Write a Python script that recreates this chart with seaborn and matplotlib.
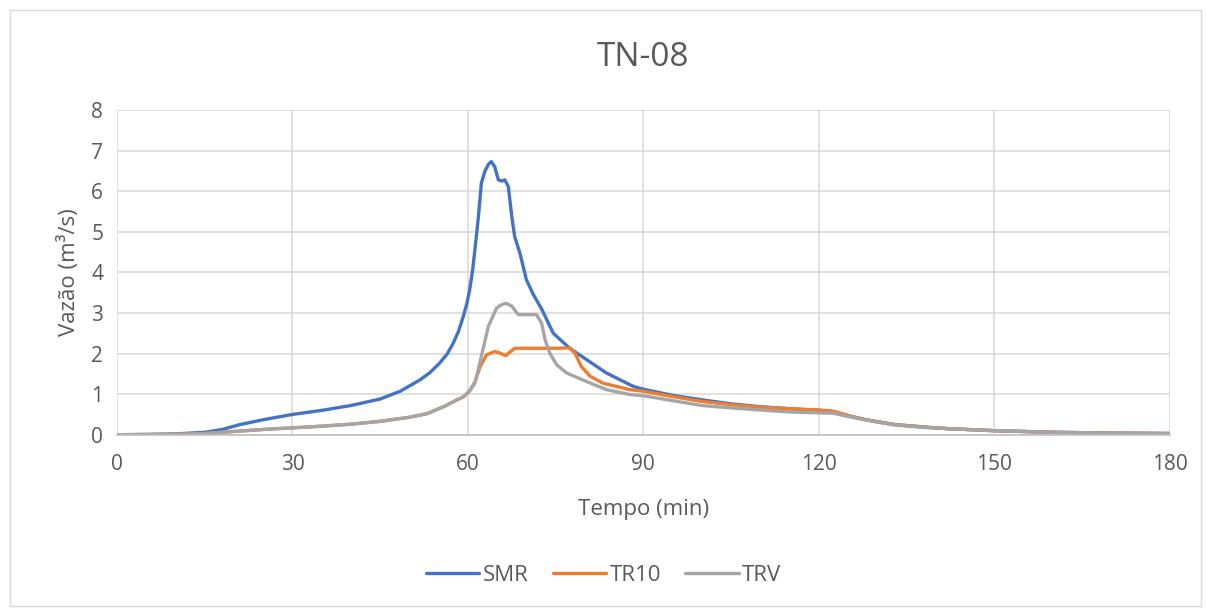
import pandas as pd
import seaborn as sns
import matplotlib.pyplot as plt
from matplotlib.patches import Rectangle

# hydrograph values (time in min, flow in m3/s)
smr_t = [0, 5, 10, 15, 18, 21, 25, 30, 35, 40, 45, 48.4, 51.8, 53.5, 55.2, 56.5, 57.5,
         58.4, 59.2, 59.8, 60.3, 60.8, 61.2, 61.8, 62.3, 62.9, 63.5, 64.0, 64.6, 65.2,
         65.8, 66.3, 66.9, 67.5, 68.0, 68.9, 70.0, 71.2, 72.6, 74.6, 77.4, 80.3, 83.7,
         88.3, 90, 95, 100, 105, 110, 115, 120, 122.5, 125, 128, 133, 138, 142, 150,
         160, 170, 180]
smr_q = [0, 0.005, 0.02, 0.06, 0.13, 0.25, 0.37, 0.5, 0.6, 0.72, 0.88, 1.07, 1.35, 1.53,
         1.77, 2.0, 2.26, 2.55, 2.91, 3.22, 3.57, 4.05, 4.56, 5.38, 6.2, 6.49, 6.66, 6.73,
         6.6, 6.28, 6.25, 6.28, 6.12, 5.38, 4.88, 4.47, 3.82, 3.45, 3.1, 2.5, 2.13, 1.85,
         1.52, 1.19, 1.12, 0.97, 0.86, 0.76, 0.69, 0.64, 0.6, 0.57, 0.47, 0.37, 0.25,
         0.19, 0.15, 0.1, 0.06, 0.04, 0.03]

tr10_t = [0, 10, 15, 20, 25, 30, 35, 40, 45, 50, 53, 56, 58, 59.2, 60.3, 61.2, 62.1,
          63.2, 64.6, 65.5, 66.5, 67.3, 68, 72, 75, 77.4, 78.3, 79.4, 80.9, 83.1, 87.7,
          90, 95, 100, 105, 110, 115, 120, 122.5, 125, 128, 133, 138, 142, 150, 160,
          170, 180]
tr10_q = [0, 0.01, 0.03, 0.08, 0.13, 0.17, 0.21, 0.26, 0.33, 0.43, 0.52, 0.7, 0.85,
          0.93, 1.08, 1.3, 1.68, 1.97, 2.05, 2.01, 1.95, 2.05, 2.13, 2.13, 2.13, 2.14,
          2.01, 1.68, 1.44, 1.27, 1.11, 1.07, 0.94, 0.82, 0.74, 0.68, 0.64, 0.61, 0.58,
          0.47, 0.37, 0.25, 0.19, 0.15, 0.1, 0.06, 0.04, 0.03]

trv_t = [0, 10, 15, 20, 25, 30, 35, 40, 45, 50, 53, 56, 58, 59.2, 60.3, 61.2, 62.3,
         63.5, 64.9, 65.7, 66.5, 67.5, 68.6, 70, 71.7, 72.6, 73.2, 74.0, 75.2, 76.9,
         80.3, 83.7, 87.7, 90, 95, 100, 105, 110, 115, 120, 122.5, 125, 128, 133, 138,
         142, 150, 160, 170, 180]
trv_q = [0, 0.01, 0.03, 0.08, 0.13, 0.17, 0.21, 0.26, 0.33, 0.43, 0.52, 0.7, 0.85,
         0.93, 1.08, 1.27, 1.93, 2.67, 3.12, 3.2, 3.24, 3.17, 2.96, 2.96, 2.96, 2.75,
         2.34, 2.01, 1.72, 1.52, 1.31, 1.11, 0.99, 0.96, 0.84, 0.72, 0.66, 0.61, 0.56,
         0.54, 0.53, 0.45, 0.36, 0.24, 0.18, 0.15, 0.1, 0.06, 0.04, 0.03]

series = ["SMR", "TR10", "TRV"]
colors = ["#4472C4", "#ED7D31", "#A5A5A5"]

df = pd.concat([
    pd.DataFrame({"t": smr_t, "q": smr_q, "serie": "SMR"}),
    pd.DataFrame({"t": tr10_t, "q": tr10_q, "serie": "TR10"}),
    pd.DataFrame({"t": trv_t, "q": trv_q, "serie": "TRV"}),
])

sns.set_style("white")
plt.rcParams["font.family"] = ["Open Sans", "DejaVu Sans"]
txt = "#595959"

fig = plt.figure(figsize=(12.07, 6.08), dpi=100)
ax = fig.add_axes([0.097, 0.285, 0.872, 0.534])

sns.lineplot(data=df, x="t", y="q", hue="serie", hue_order=series,
             palette=colors, estimator=None, sort=False, linewidth=2.4, ax=ax)

ax.set_xlim(0, 180)
ax.set_ylim(0, 8)
ax.set_xticks(range(0, 181, 30))
ax.set_yticks(range(0, 9))
ax.grid(True, color="#d9d9d9", linewidth=1.1)
ax.set_axisbelow(True)
for s in ["top", "right", "left"]:
    ax.spines[s].set_visible(False)
ax.spines["bottom"].set_color("#bfbfbf")
ax.spines["bottom"].set_linewidth(1.2)
ax.tick_params(axis="x", length=0, labelsize=15, colors=txt, pad=14)
ax.tick_params(axis="y", length=0, labelsize=15, colors=txt, pad=10)

ax.set_xlabel("Tempo (min)", fontsize=16, color=txt, labelpad=17)
ax.set_ylabel("Vazão (m³/s)", fontsize=16, color=txt, labelpad=8)
ax.set_title("TN-08", fontsize=24, color=txt, pad=32)

handles, labels = ax.get_legend_handles_labels()
ax.get_legend().remove()
fig.legend(handles, labels, loc="center", bbox_to_anchor=(0.5, 0.053), ncol=3,
           frameon=False, fontsize=16, labelcolor=txt, handlelength=2.4,
           handletextpad=0.15, columnspacing=1.1)

fig.patches.append(Rectangle((0.008, 0.003), 0.987, 0.98, transform=fig.transFigure,
                             fill=False, edgecolor="#d9d9d9", linewidth=1))

fig.savefig("out.png", dpi=100)
